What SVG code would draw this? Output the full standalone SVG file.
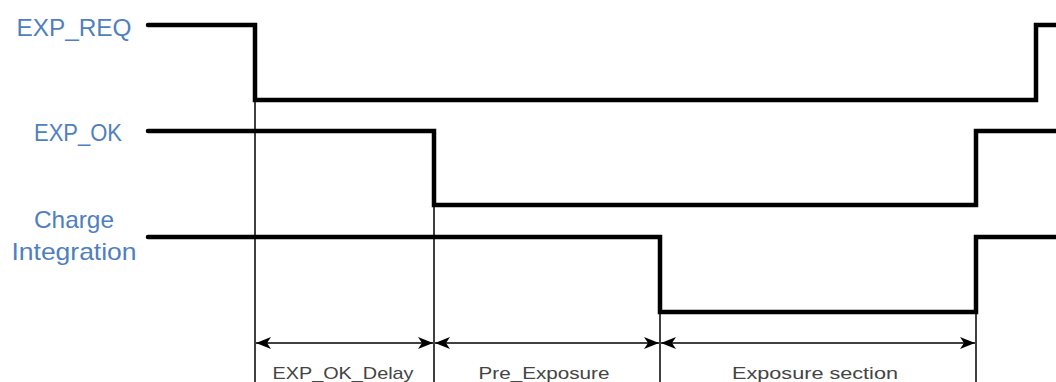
<svg xmlns="http://www.w3.org/2000/svg" width="1056" height="382" viewBox="0 0 1056 382">
<defs>
<style>
.sig{fill:none;stroke:#000;stroke-width:4.5;stroke-linejoin:miter;stroke-linecap:round}
.guide{fill:none;stroke:#000;stroke-width:1.5}
.dim{fill:none;stroke:#000;stroke-width:1.5;marker-start:url(#ah);marker-end:url(#ah)}
.lbl{font-family:"Liberation Sans",Arial,sans-serif;font-size:24px;fill:#4f7fbf;text-anchor:middle}
.dlbl{font-family:"Liberation Sans",Arial,sans-serif;font-size:17px;fill:#444;text-anchor:middle}
</style>
<marker id="ah" viewBox="0 0 15 12" refX="15" refY="6" markerWidth="15" markerHeight="12" markerUnits="userSpaceOnUse" orient="auto-start-reverse">
<path d="M0,0 L15,6 L0,12 L4,6 Z" fill="#000"/>
</marker>
</defs>
<rect width="1056" height="382" fill="#fff"/>
<g id="label-exp-req"><text class="lbl" x="74" y="36" textLength="115" lengthAdjust="spacingAndGlyphs">EXP_REQ</text></g>
<g id="label-exp-ok"><text class="lbl" x="78" y="141" textLength="88" lengthAdjust="spacingAndGlyphs">EXP_OK</text></g>
<g id="label-charge"><text class="lbl" x="74" y="228" textLength="80" lengthAdjust="spacingAndGlyphs">Charge</text><text class="lbl" x="74" y="260" textLength="125" lengthAdjust="spacingAndGlyphs">Integration</text></g>
<g id="signals">
<path id="sig-exp-req" class="sig" d="M148,25 H255 V100 H1036 V25 H1058"/>
<path id="sig-exp-ok" class="sig" d="M148,131 H434 V205 H976 V131 H1058"/>
<path id="sig-charge" class="sig" d="M148,237 H660 V312 H976 V237 H1058"/>
</g>
<g id="connectors">
<line class="guide" x1="255" y1="100" x2="255" y2="382"/>
<line class="guide" x1="434" y1="205" x2="434" y2="382"/>
<line class="guide" x1="660" y1="312" x2="660" y2="382"/>
<line class="guide" x1="976" y1="312" x2="976" y2="382"/>
<line class="dim" x1="256" y1="343" x2="433" y2="343"/>
<line class="dim" x1="435" y1="343" x2="659" y2="343"/>
<line class="dim" x1="661" y1="343" x2="975" y2="343"/>
</g>
<g id="dim-labels">
<text class="dlbl" x="343" y="379" textLength="141" lengthAdjust="spacingAndGlyphs">EXP_OK_Delay</text>
<text class="dlbl" x="544" y="379" textLength="131" lengthAdjust="spacingAndGlyphs">Pre_Exposure</text>
<text class="dlbl" x="815" y="379" textLength="166" lengthAdjust="spacingAndGlyphs">Exposure section</text>
</g>
</svg>
